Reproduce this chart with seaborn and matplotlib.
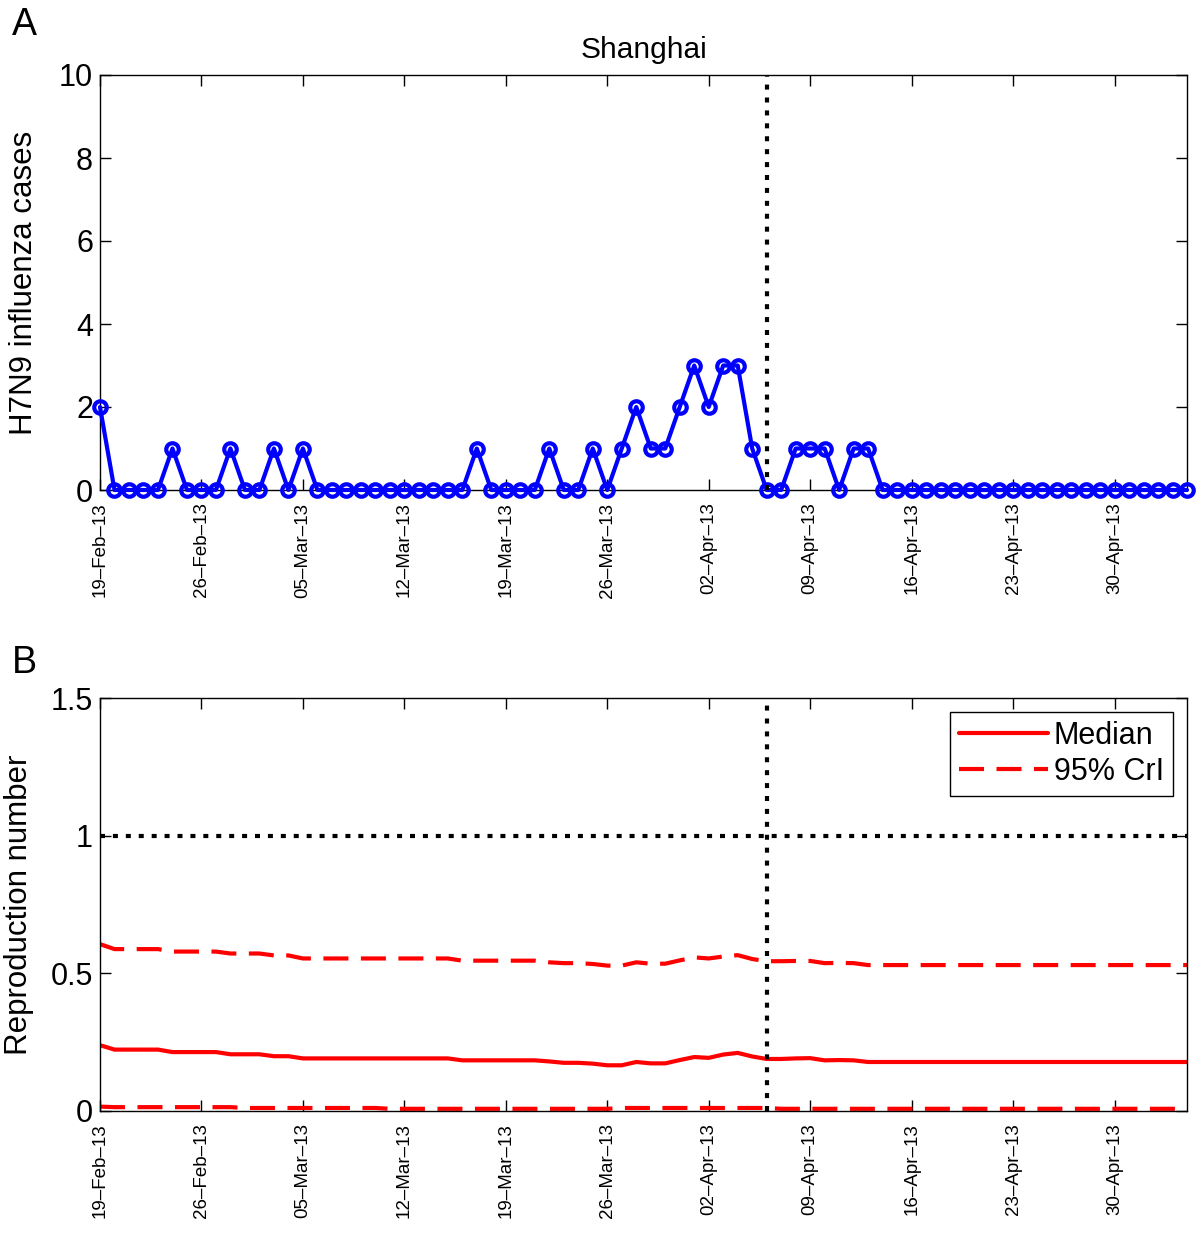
import numpy as np
import pandas as pd
import matplotlib
matplotlib.use("Agg")
import matplotlib.pyplot as plt
import matplotlib.dates as mdates
import seaborn as sns

# ---------------- data ----------------
start_date = "2013-02-19"
end_date = "2013-05-05"
vline_date = "2013-04-06"
tick_dates = ["2013-02-19", "2013-02-26", "2013-03-05", "2013-03-12", "2013-03-19",
              "2013-03-26", "2013-04-02", "2013-04-09", "2013-04-16", "2013-04-23",
              "2013-04-30"]

cases = [2, 0, 0, 0, 0, 1, 0, 0, 0, 1,
         0, 0, 1, 0, 1, 0, 0, 0, 0, 0,
         0, 0, 0, 0, 0, 0, 1, 0, 0, 0,
         0, 1, 0, 0, 1, 0, 1, 2, 1, 1,
         2, 3, 2, 3, 3, 1, 0, 0, 1, 1,
         1, 0, 1, 1, 0, 0, 0, 0, 0, 0,
         0, 0, 0, 0, 0, 0, 0, 0, 0, 0,
         0, 0, 0, 0, 0, 0]

r_median = [0.239, 0.223, 0.223, 0.223, 0.223, 0.214, 0.214, 0.214, 0.214, 0.206,
            0.206, 0.206, 0.199, 0.199, 0.191, 0.191, 0.191, 0.191, 0.191, 0.191,
            0.191, 0.191, 0.191, 0.191, 0.191, 0.184, 0.184, 0.184, 0.184, 0.184,
            0.184, 0.180, 0.175, 0.175, 0.172, 0.166, 0.166, 0.178, 0.173, 0.173,
            0.185, 0.196, 0.193, 0.205, 0.211, 0.198, 0.189, 0.189, 0.191, 0.192,
            0.184, 0.185, 0.184, 0.178, 0.178, 0.178, 0.178, 0.178, 0.178, 0.178,
            0.178, 0.178, 0.178, 0.178, 0.178, 0.178, 0.178, 0.178, 0.178, 0.178,
            0.178, 0.178, 0.178, 0.178, 0.178, 0.178]

r_upper = [0.606, 0.588, 0.588, 0.588, 0.588, 0.579, 0.579, 0.579, 0.579, 0.572,
           0.572, 0.572, 0.565, 0.565, 0.554, 0.554, 0.554, 0.554, 0.554, 0.554,
           0.554, 0.554, 0.554, 0.554, 0.554, 0.546, 0.546, 0.546, 0.546, 0.546,
           0.546, 0.540, 0.537, 0.537, 0.534, 0.528, 0.528, 0.540, 0.535, 0.535,
           0.547, 0.558, 0.554, 0.561, 0.566, 0.552, 0.544, 0.544, 0.545, 0.545,
           0.537, 0.538, 0.537, 0.530, 0.530, 0.530, 0.530, 0.530, 0.530, 0.530,
           0.530, 0.530, 0.530, 0.530, 0.530, 0.530, 0.530, 0.530, 0.530, 0.530,
           0.530, 0.530, 0.530, 0.530, 0.530, 0.530]

r_lower = [0.016, 0.014, 0.014, 0.014, 0.014, 0.014, 0.014, 0.014, 0.014, 0.014,
           0.011, 0.011, 0.011, 0.011, 0.011, 0.011, 0.011, 0.011, 0.011, 0.011,
           0.008, 0.008, 0.008, 0.008, 0.008, 0.008, 0.008, 0.008, 0.008, 0.008,
           0.008, 0.008, 0.008, 0.008, 0.008, 0.008, 0.011, 0.011, 0.011, 0.011,
           0.011, 0.011, 0.011, 0.011, 0.011, 0.011, 0.011, 0.008, 0.008, 0.008,
           0.008, 0.008, 0.008, 0.008, 0.008, 0.008, 0.008, 0.008, 0.008, 0.008,
           0.008, 0.008, 0.008, 0.008, 0.008, 0.008, 0.008, 0.008, 0.008, 0.008,
           0.008, 0.008, 0.008, 0.008, 0.008, 0.008]

top_yticks = [0, 2, 4, 6, 8, 10]
bottom_yticks = [0, 0.5, 1, 1.5]
bottom_yticklabels = ["0", "0.5", "1", "1.5"]

dates = pd.date_range(start_date, end_date, freq="D")
df = pd.DataFrame({"date": dates, "cases": cases, "median": r_median,
                   "upper": r_upper, "lower": r_lower})

# ---------------- style ----------------
sns.set_style("ticks")
plt.rcParams["font.family"] = ["Liberation Sans", "DejaVu Sans"]
for k in ["text.color", "axes.labelcolor", "xtick.color", "ytick.color",
          "axes.edgecolor"]:
    plt.rcParams[k] = "black"
plt.rcParams["axes.linewidth"] = 1.0

fig = plt.figure(figsize=(12, 12.37), dpi=100)
W, H = 1200, 1237
ax1 = fig.add_axes([100 / W, 1 - 490 / H, 1087 / W, 415 / H])
ax2 = fig.add_axes([100 / W, 1 - 1111 / H, 1087 / W, 413 / H])

tick_pos = pd.to_datetime(tick_dates)
tick_lab = [d.strftime("%d–%b–%y") for d in tick_pos]
dot = (0, (1.2, 1.9))


def style_axis(ax):
    ax.set_xlim(pd.Timestamp(start_date), pd.Timestamp(end_date))
    ax.set_xticks(tick_pos)
    ax.set_xticklabels(tick_lab, rotation=90, fontsize=13.5)
    ax.tick_params(axis="both", direction="in", top=True, right=True,
                   length=8, width=1, color="black")
    ax.tick_params(axis="y", labelsize=22, pad=5)
    ax.tick_params(axis="x", pad=9)
    for s in ax.spines.values():
        s.set_visible(True)
        s.set_color("black")
        s.set_linewidth(1.0)
    ax.set_xlabel("")


# ---------------- panel A ----------------
sns.lineplot(data=df, x="date", y="cases", ax=ax1, color="blue", lw=3,
             marker="o", markersize=9, markerfacecolor="none",
             markeredgecolor="blue", markeredgewidth=3, errorbar=None,
             clip_on=False, zorder=3)
ax1.axvline(pd.Timestamp(vline_date), color="black", lw=3, ls=dot, zorder=4)
ax1.set_ylim(0, 10)
ax1.set_yticks(top_yticks)
ax1.set_yticklabels([str(v) for v in top_yticks])
style_axis(ax1)
ax1.set_ylabel("H7N9 influenza cases", fontsize=22.5, labelpad=14)
ax1.set_title("Shanghai", fontsize=21.5, pad=12)

# ---------------- panel B ----------------
dash = (0, (6, 3))
sns.lineplot(data=df, x="date", y="median", ax=ax2, color="#ff0000", lw=3,
             label="Median", errorbar=None)
sns.lineplot(data=df, x="date", y="upper", ax=ax2, color="#ff0000", lw=3,
             ls=dash, label="95% CrI", errorbar=None)
sns.lineplot(data=df, x="date", y="lower", ax=ax2, color="#ff0000", lw=3,
             ls=dash, label="_nolegend_", errorbar=None)
ax2.axhline(1, color="black", lw=3, ls=dot)
ax2.axvline(pd.Timestamp(vline_date), color="black", lw=3, ls=dot)
ax2.set_ylim(0, 1.5)
ax2.set_yticks(bottom_yticks)
ax2.set_yticklabels(bottom_yticklabels)
style_axis(ax2)
ax2.set_ylabel("Reproduction number", fontsize=22.5, labelpad=12)
leg = ax2.legend(loc="upper right", fontsize=22, frameon=True, fancybox=False,
                 edgecolor="black", framealpha=1, handlelength=2.9,
                 handletextpad=0.2, borderpad=0.3, labelspacing=0.2,
                 borderaxespad=0.45)
leg.get_frame().set_linewidth(1.0)

fig.text(12 / W, 1 - 35 / H, "A", fontsize=27)
fig.text(12 / W, 1 - 673 / H, "B", fontsize=27)

fig.savefig("out.png", dpi=100)
